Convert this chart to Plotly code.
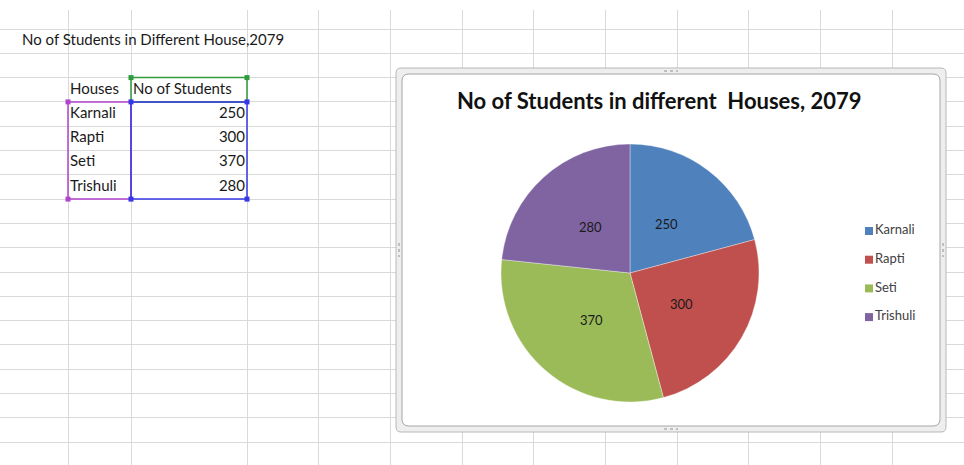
import math
import plotly.graph_objects as go

# data
sheet_title = "No of Students in Different House,2079"
header = ["Houses", "No of Students"]
houses = ["Karnali", "Rapti", "Seti", "Trishuli"]
students = [250, 300, 370, 280]
chart_title = "No of Students in different  Houses, 2079"
colors = ["#4F81BD", "#C0504D", "#9BBB59", "#8064A2"]

# sheet geometry (pixels)
W, H = 964, 465
col_edges = [68, 131, 247, 318.5, 390, 462, 533.5, 605, 677, 748.5, 820, 892, 963]
row_edges = [29 + 24.3 * k for k in range(18)]
grid_col = "#d9d9d9"
font_sheet = "Lato"
txt_col = "#1a1a1a"


def row_mid(r):
    return (row_edges[r] + row_edges[r + 1]) / 2


fig = go.Figure()

# cell texts
fig.add_trace(go.Scatter(
    x=[22], y=[row_mid(0)], mode="text", text=[sheet_title],
    textposition="middle right", textfont=dict(family=font_sheet, size=15, color=txt_col),
    hoverinfo="skip", showlegend=False))
fig.add_trace(go.Scatter(
    x=[col_edges[0] + 2, col_edges[1] + 2], y=[row_mid(2)] * 2, mode="text", text=header,
    textposition="middle right", textfont=dict(family=font_sheet, size=15, color=txt_col),
    hoverinfo="skip", showlegend=False))
fig.add_trace(go.Scatter(
    x=[col_edges[0] + 2] * len(houses), y=[row_mid(3 + i) for i in range(len(houses))],
    mode="text", text=houses, textposition="middle right",
    textfont=dict(family=font_sheet, size=15, color=txt_col),
    hoverinfo="skip", showlegend=False))
fig.add_trace(go.Scatter(
    x=[col_edges[2] - 2] * len(students), y=[row_mid(3 + i) for i in range(len(students))],
    mode="text", text=[str(v) for v in students], textposition="middle left",
    textfont=dict(family=font_sheet, size=15, color=txt_col),
    hoverinfo="skip", showlegend=False))

# selection outlines and handles
shapes = []


def selection(x0, y0, x1, y1, col, corners):
    shapes.append(dict(type="rect", xref="x", yref="y", x0=x0, y0=y0, x1=x1, y1=y1,
                       line=dict(color=col, width=1.5), layer="above"))
    for (hx, hy) in corners:
        shapes.append(dict(type="rect", xref="x", yref="y", x0=hx - 2.5, y0=hy - 2.5,
                           x1=hx + 2.5, y1=hy + 2.5, fillcolor=col, line=dict(width=0),
                           layer="above"))


top, bot = row_edges[3], row_edges[7]
selection(col_edges[1], row_edges[2], col_edges[2], top, "#2e9b3c",
          [(col_edges[1], row_edges[2]), (col_edges[2], row_edges[2])])
selection(col_edges[0], top, col_edges[1], bot, "#b044cc",
          [(col_edges[0], top), (col_edges[0], bot)])
selection(col_edges[1], top, col_edges[2], bot, "#3737e6",
          [(col_edges[1], top), (col_edges[2], top), (col_edges[1], bot), (col_edges[2], bot)])


# chart object frame
def rounded(x0, y0, x1, y1, r):
    return (f"M{x0 + r},{y0} L{x1 - r},{y0} Q{x1},{y0} {x1},{y0 + r} "
            f"L{x1},{y1 - r} Q{x1},{y1} {x1 - r},{y1} L{x0 + r},{y1} "
            f"Q{x0},{y1} {x0},{y1 - r} L{x0},{y0 + r} Q{x0},{y0} {x0 + r},{y0} Z")


fx0, fy0, fx1, fy1 = 396, 68, 946, 432
shapes.append(dict(type="path", xref="x", yref="y", path=rounded(fx0, fy0, fx1, fy1, 5),
                   fillcolor="#eeeeee", line=dict(color="#b8b8b8", width=1), layer="between"))
shapes.append(dict(type="path", xref="x", yref="y", path=rounded(fx0 + 6, fy0 + 6, fx1 - 6, fy1 - 6, 7),
                   fillcolor="#ffffff", line=dict(color="#a6a6a6", width=1), layer="between"))
mx, my = (fx0 + fx1) / 2, (fy0 + fy1) / 2
for (ax0, ay0, ax1, ay1) in [(mx - 7, fy0 + 3, mx + 7, fy0 + 3), (mx - 7, fy1 - 3, mx + 7, fy1 - 3),
                             (fx0 + 3, my - 7, fx0 + 3, my + 7), (fx1 - 3, my - 7, fx1 - 3, my + 7)]:
    shapes.append(dict(type="line", xref="x", yref="y", x0=ax0, y0=ay0, x1=ax1, y1=ay1,
                       line=dict(color="#909090", width=1, dash="dot"), layer="between"))

# pie
cx, cy, rad = 630, 273, 129
fig.add_trace(go.Pie(
    labels=houses, values=students, sort=False, direction="clockwise", rotation=0,
    marker=dict(colors=colors, line=dict(width=0.6, color="rgba(255,255,255,0.6)")),
    textinfo="none",
    domain=dict(x=[(cx - rad) / W, (cx + rad) / W], y=[(H - cy - rad) / H, (H - cy + rad) / H]),
    hoverinfo="skip", showlegend=False))

# data labels, Excel-style, near the middle of each slice's mid angle
total = sum(students)
acc = 0
for v in students:
    mid = (acc + v / 2) / total * 2 * math.pi
    acc += v
    fig.add_annotation(x=cx + 0.46 * rad * math.sin(mid), y=cy - 0.48 * rad * math.cos(mid),
                       xref="x", yref="y", text=str(v), showarrow=False,
                       font=dict(family=font_sheet, size=13, color=txt_col))

# legend (drawn as markers + labels)
leg_x, leg_y, leg_gap = 869, 231, 28.7
fig.add_trace(go.Scatter(
    x=[leg_x] * len(houses), y=[leg_y + i * leg_gap for i in range(len(houses))],
    mode="markers+text", text=houses, textposition="middle right",
    marker=dict(symbol="square", size=8, color=colors),
    textfont=dict(family=font_sheet, size=13, color="#404040"),
    hoverinfo="skip", showlegend=False))

fig.add_annotation(x=659, y=101, xref="x", yref="y", text="<b>" + chart_title + "</b>",
                   showarrow=False, font=dict(family=font_sheet, size=22, color="#111111"))

fig.update_layout(
    width=W, height=H, margin=dict(l=0, r=0, t=0, b=0),
    paper_bgcolor="white", plot_bgcolor="white", shapes=shapes,
    xaxis=dict(range=[0, W], domain=[0, 1], tickvals=col_edges, showgrid=True, gridcolor=grid_col,
               gridwidth=1, showticklabels=False, zeroline=False, ticks="", fixedrange=True),
    yaxis=dict(range=[H, 10], domain=[0, (H - 10) / H], tickvals=row_edges, showgrid=True,
               gridcolor=grid_col, gridwidth=1, showticklabels=False, zeroline=False, ticks="",
               fixedrange=True),
)

fig.write_html("out.html", config={"displayModeBar": False},
               post_script="document.body.style.margin='0px';")
